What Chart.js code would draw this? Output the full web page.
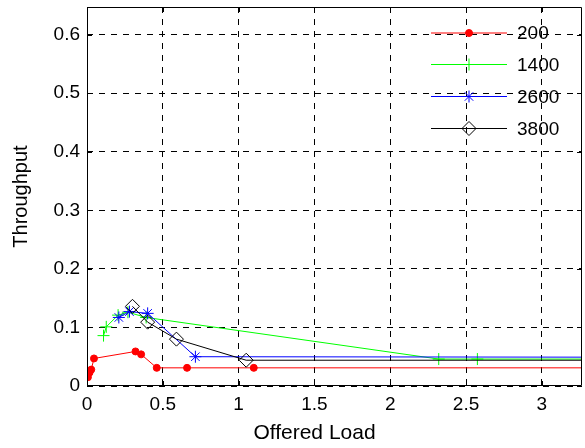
<!DOCTYPE html>
<html>
<head>
<meta charset="utf-8">
<script src="https://cdn.jsdelivr.net/npm/chart.js@4.4.1/dist/chart.umd.min.js"></script>
<style>
  html, body { margin: 0; padding: 0; background: #fff; }
  canvas { display: block; }
</style>
</head>
<body>
<canvas id="graph" width="585" height="448"></canvas>
<script>
// series (last point of each lies past the right edge)
const seriesNames = ['200', '1400', '2600', '3800'];

const load200 = [0.006, 0.017, 0.028, 0.046, 0.32, 0.357, 0.46, 0.66, 1.10, 4.0];
const thr200  = [0.015, 0.023, 0.028, 0.047, 0.059, 0.054, 0.031, 0.031, 0.031, 0.031];

const load1400 = [0.109, 0.127, 0.205, 0.27, 0.39, 2.32, 2.575, 4.0];
const thr1400  = [0.086, 0.101, 0.121, 0.126, 0.117, 0.046, 0.046, 0.046];

const load2600 = [0.21, 0.28, 0.40, 0.715, 4.0];
const thr2600  = [0.117, 0.127, 0.124, 0.050, 0.049];

const load3800 = [0.30, 0.40, 0.59, 1.05, 4.0];
const thr3800  = [0.136, 0.109, 0.080, 0.044, 0.044];

const xTicks = [0, 0.5, 1, 1.5, 2, 2.5, 3];
const yTicks = [0, 0.1, 0.2, 0.3, 0.4, 0.5, 0.6];

const xTitle = 'Offered Load';
const yTitle = 'Throughput';

const FONT = '"Liberation Sans", Arial, Helvetica, sans-serif';

function toPoints(xs, ys) {
    return xs.map((x, i) => ({ x: x, y: ys[i] }));
}

// MATLAB style axes box with inward ticks
const boxPlugin = {
    id: 'box',
    afterDatasetsDraw(chart) {
        const ctx = chart.ctx;
        const a = chart.chartArea;
        const xs = chart.scales.x, ys = chart.scales.y;
        ctx.save();
        ctx.strokeStyle = '#000';
        ctx.lineWidth = 1;
        ctx.setLineDash([]);
        ctx.beginPath();
        ctx.rect(Math.round(a.left) + 0.5, Math.round(a.top) + 0.5,
                 Math.round(a.right - a.left) - 1, Math.round(a.bottom - a.top) - 1);
        for (let v of xTicks) {
            let px = Math.round(xs.getPixelForValue(v)) + 0.5;
            ctx.moveTo(px, a.bottom); ctx.lineTo(px, a.bottom - 5);
            ctx.moveTo(px, a.top); ctx.lineTo(px, a.top + 5);
        }
        for (let v of yTicks) {
            let py = Math.round(ys.getPixelForValue(v)) + 0.5;
            ctx.moveTo(a.left, py); ctx.lineTo(a.left + 5, py);
            ctx.moveTo(a.right, py); ctx.lineTo(a.right - 5, py);
        }
        ctx.stroke();

        // x label sits a bit left of the axes centre in the picture
        ctx.fillStyle = '#000';
        ctx.font = '21px ' + FONT;
        ctx.textAlign = 'center';
        ctx.textBaseline = 'middle';
        ctx.fillText(xTitle, 314.5, 433);
        ctx.restore();
    }
};

// legend: line with marker in the middle, no frame
const legendPlugin = {
    id: 'matlabLegend',
    afterDraw(chart) {
        const ctx = chart.ctx;
        const rowY = [33, 64.5, 96.5, 128.5];
        const x0 = 431, x1 = 507, xm = 469, xt = 517;
        ctx.save();
        chart.data.datasets.forEach((ds, i) => {
            let y = rowY[i];
            ctx.strokeStyle = ds.borderColor;
            ctx.lineWidth = 1;
            ctx.beginPath();
            ctx.moveTo(x0, y); ctx.lineTo(x1, y);
            ctx.stroke();
            ctx.fillStyle = ds.pointBackgroundColor;
            ctx.strokeStyle = ds.pointBorderColor;
            Chart.helpers.drawPoint(ctx, {
                pointStyle: ds.pointStyle,
                radius: ds.pointRadius,
                borderWidth: 1,
                rotation: 0
            }, xm, y);
            ctx.fillStyle = '#000';
            ctx.font = '19px ' + FONT;
            ctx.textBaseline = 'middle';
            ctx.textAlign = 'left';
            ctx.fillText(ds.label, xt, y + 1);
        });
        ctx.restore();
    }
};

let canvas = document.getElementById('graph').getContext('2d');

let chart = new Chart(canvas, {
    type: 'line',
    data: {
        datasets: [
            {
                label: seriesNames[0],
                data: toPoints(load200, thr200),
                borderColor: '#ff0000',
                pointBackgroundColor: '#ff0000',
                pointBorderColor: '#ff0000',
                pointStyle: 'circle',
                pointRadius: 3.5,
                order: 4
            },
            {
                label: seriesNames[1],
                data: toPoints(load1400, thr1400),
                borderColor: '#00ff00',
                pointBackgroundColor: '#00ff00',
                pointBorderColor: '#00ff00',
                pointStyle: 'cross',
                pointRadius: 6,
                order: 3
            },
            {
                label: seriesNames[2],
                data: toPoints(load2600, thr2600),
                borderColor: '#0000ff',
                pointBackgroundColor: '#0000ff',
                pointBorderColor: '#0000ff',
                pointStyle: 'star',
                pointRadius: 6,
                order: 2
            },
            {
                label: seriesNames[3],
                data: toPoints(load3800, thr3800),
                borderColor: '#000000',
                pointBackgroundColor: 'rgba(0,0,0,0)',
                pointBorderColor: '#000000',
                pointStyle: 'rectRot',
                pointRadius: 7,
                order: 1
            }
        ]
    },
    options: {
        responsive: false,
        animation: false,
        layout: { autoPadding: false, padding: { top: 7, right: 3, left: 0, bottom: 0 } },
        elements: {
            line: { borderWidth: 1, tension: 0, fill: false },
            point: { borderWidth: 1, hoverRadius: 0 }
        },
        plugins: {
            legend: { display: false },
            tooltip: { enabled: false }
        },
        scales: {
            x: {
                type: 'linear',
                min: 0,
                max: 3.265,
                afterBuildTicks: (s) => { s.ticks = xTicks.map(v => ({ value: v })); },
                afterFit: (s) => { s.height = 62; s.paddingLeft = 0; s.paddingRight = 0; },
                ticks: {
                    color: '#000',
                    padding: 7,
                    maxRotation: 0,
                    autoSkip: false,
                    font: { family: FONT, size: 19 },
                    callback: (v) => String(v)
                },
                grid: { color: '#000', lineWidth: 1, drawTicks: false },
                border: { display: false, dash: [6, 6] },
                title: { display: false, text: xTitle }
            },
            y: {
                type: 'linear',
                min: 0,
                max: 0.647,
                afterBuildTicks: (s) => { s.ticks = yTicks.map(v => ({ value: v })); },
                afterFit: (s) => { s.width = 87; s.paddingTop = 0; s.paddingBottom = 0; },
                ticks: {
                    color: '#000',
                    padding: 7,
                    autoSkip: false,
                    font: { family: FONT, size: 19 },
                    callback: (v) => String(v)
                },
                grid: { color: '#000', lineWidth: 1, drawTicks: false },
                border: { display: false, dash: [6, 6] },
                title: {
                    display: true,
                    text: yTitle,
                    color: '#000',
                    font: { family: FONT, size: 20 },
                    padding: { top: 9, bottom: 0 }
                }
            }
        }
    },
    plugins: [boxPlugin, legendPlugin]
});
</script>
</body>
</html>
